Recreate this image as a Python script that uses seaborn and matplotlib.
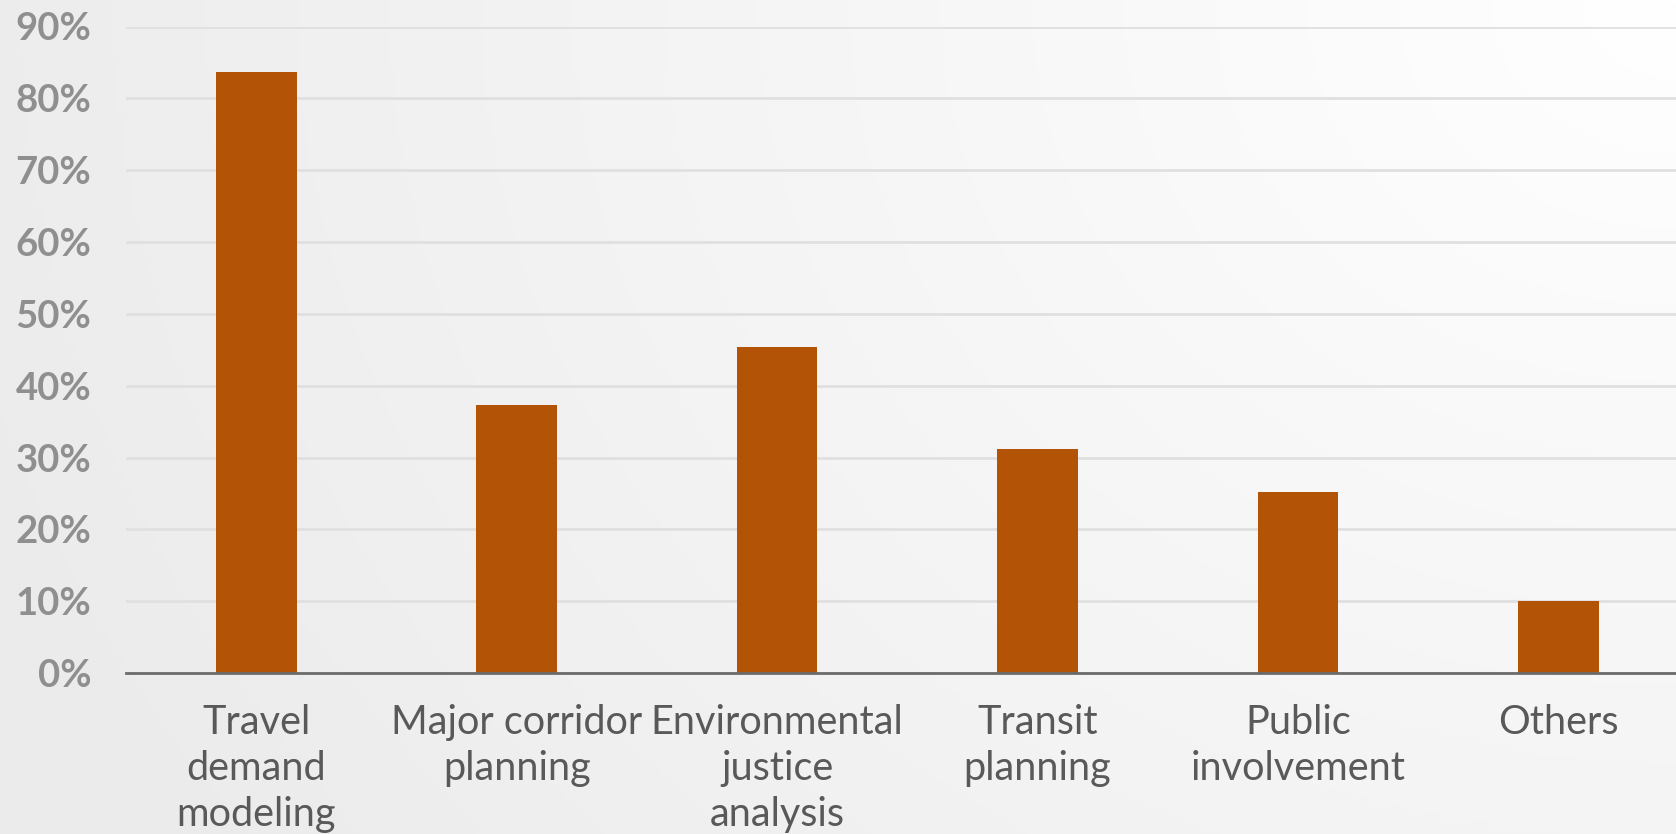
import numpy as np
import seaborn as sns
import matplotlib.pyplot as plt
from matplotlib.ticker import PercentFormatter

categories = ["Travel\ndemand\nmodeling", "Major corridor\nplanning",
              "Environmental\njustice\nanalysis", "Transit\nplanning",
              "Public\ninvolvement", "Others"]
shares = [83.7, 37.3, 45.4, 31.2, 25.2, 10.0]
y_ticks = [0, 10, 20, 30, 40, 50, 60, 70, 80, 90]

sns.set_theme(style="white")
plt.rcParams["font.family"] = ["Lato", "DejaVu Sans"]

fig = plt.figure(figsize=(16.76, 8.34), dpi=100)

# soft grey-to-white slide background (lightest at top right)
bg = fig.add_axes([0, 0, 1, 1], zorder=-5)
gx, gy = np.meshgrid(np.linspace(0, 1, 400), np.linspace(0, 1, 200))
dist = np.sqrt((1 - gx) ** 2 + (gy * 0.6) ** 2)
shade = 1 - 0.075 * np.clip(dist / 1.05, 0, 1)
bg.imshow(np.dstack([shade] * 3), aspect="auto", extent=[0, 1, 0, 1],
          origin="upper")
bg.axis("off")

ax = fig.add_axes([126 / 1676, 161 / 834, 1 - 126 / 1676, 646.5 / 834])
ax.set_facecolor("none")

sns.barplot(x=categories, y=shares, color="#B35306", width=0.31,
            saturation=1, edgecolor="none", linewidth=0, ax=ax, zorder=3)

ax.set_ylim(0, 90)
ax.set_xlim(-0.5, 5.452)
ax.set_yticks(y_ticks)
ax.yaxis.set_major_formatter(PercentFormatter(decimals=0))
ax.grid(axis="y", color="#e0e0e0", linewidth=2, zorder=0)
ax.set_axisbelow(True)

for s in ["top", "right", "left"]:
    ax.spines[s].set_visible(False)
ax.spines["bottom"].set_color("#6b6b6b")
ax.spines["bottom"].set_linewidth(2)
ax.spines["bottom"].set_zorder(4)

ax.tick_params(axis="y", length=0, pad=25, labelsize=27.5, labelcolor="#8f8f8f")
ax.tick_params(axis="x", length=0, pad=22, labelsize=28.5, labelcolor="#595959")
for t in ax.get_yticklabels():
    t.set_fontweight("bold")
for t in ax.get_xticklabels():
    t.set_linespacing(1.3)

ax.set_xlabel("")
ax.set_ylabel("")

fig.savefig("out.png", dpi=100)
